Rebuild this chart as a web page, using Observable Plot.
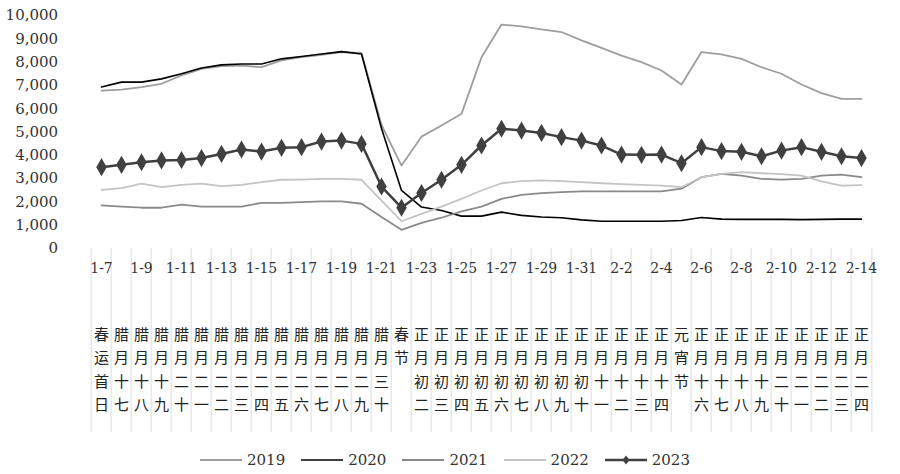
<!DOCTYPE html>
<html><head><meta charset="utf-8">
<script src="https://cdn.jsdelivr.net/npm/d3@7"></script>
<script src="https://cdn.jsdelivr.net/npm/@observablehq/plot@0.6"></script>
<style>
body{margin:0;background:#fff;}
#legend{display:flex;justify-content:center;align-items:center;gap:16px;height:29px;font-family:"DejaVu Serif";font-size:15px;color:#333;padding-right:10px;}
#legend .item{display:flex;align-items:center;gap:5px;}
</style></head><body>
<div id="chart"></div><div id="legend"></div>
<script>
const dates = ["1-7","1-8","1-9","1-10","1-11","1-12","1-13","1-14","1-15","1-16","1-17","1-18","1-19","1-20","1-21","1-22","1-23","1-24","1-25","1-26","1-27","1-28","1-29","1-30","1-31","2-1","2-2","2-3","2-4","2-5","2-6","2-7","2-8","2-9","2-10","2-11","2-12","2-13","2-14"];
const xTickLabels = ["1-7","1-9","1-11","1-13","1-15","1-17","1-19","1-21","1-23","1-25","1-27","1-29","1-31","2-2","2-4","2-6","2-8","2-10","2-12","2-14"];
const lunar = ["春运首日","腊月十七","腊月十八","腊月十九","腊月二十","腊月二一","腊月二二","腊月二三","腊月二四","腊月二五","腊月二六","腊月二七","腊月二八","腊月二九","腊月三十","春节","正月初二","正月初三","正月初四","正月初五","正月初六","正月初七","正月初八","正月初九","正月初十","正月十一","正月十二","正月十三","正月十四","元宵节","正月十六","正月十七","正月十八","正月十九","正月二十","正月二一","正月二二","正月二三","正月二四"];
const yTicks = [0,1000,2000,3000,4000,5000,6000,7000,8000,9000,10000];
const years = ["2019","2020","2021","2022","2023"];
const v2019 = [6780,6820,6930,7070,7430,7710,7830,7850,7780,8070,8210,8310,8430,8400,5300,3560,4800,5280,5780,8210,9610,9530,9400,9290,8930,8610,8280,8000,7640,7040,8430,8330,8140,7780,7500,7040,6670,6420,6420];
const v2020 = [6930,7140,7140,7280,7500,7750,7880,7920,7920,8140,8240,8350,8450,8350,5150,2490,1780,1630,1390,1390,1560,1420,1350,1320,1230,1170,1170,1170,1170,1200,1330,1260,1250,1250,1250,1240,1250,1260,1260];
const v2021 = [1850,1800,1750,1750,1880,1800,1800,1800,1960,1960,1990,2020,2020,1920,1350,800,1100,1320,1590,1800,2130,2300,2380,2420,2450,2450,2450,2450,2450,2570,3060,3200,3130,2990,2960,2990,3130,3170,3060];
const v2022 = [2520,2590,2780,2630,2730,2780,2680,2730,2850,2950,2960,2990,2990,2950,2060,1170,1490,1800,2130,2490,2800,2890,2920,2890,2850,2800,2760,2730,2700,2630,3060,3200,3280,3230,3190,3130,2880,2700,2720];
const v2023 = [3490,3590,3700,3780,3800,3880,4060,4250,4160,4320,4350,4590,4630,4490,2660,1750,2380,2950,3590,4420,5140,5060,4960,4780,4630,4420,4030,4020,4030,3660,4350,4180,4150,3960,4200,4350,4150,3960,3880];

const series = {"2019": v2019, "2020": v2020, "2021": v2021, "2022": v2022, "2023": v2023};
const colors = {"2019": "#9e9e9e", "2020": "#000000", "2021": "#8a8a8a", "2022": "#c4c4c4", "2023": "#404040"};
const widths = {"2019": 1.8, "2020": 1.6, "2021": 1.8, "2022": 1.8, "2023": 2.5};
const rows = years.flatMap(yr => dates.map((d, i) => ({date: d, year: yr, value: series[yr][i]})));

const W = 900, H = 445;
const mL = 76.6, mR = 14.6, mT = 15, mB = 197;
const bw = (W - mL - mR) / dates.length;

const marks = [
  Plot.ruleX(dates, {x: d => d, y1: 0, y2: -7900, dx: -bw / 2, stroke: "#dcdcdc", strokeWidth: 1}),
  Plot.ruleX(dates.slice(-1), {x: d => d, y1: 0, y2: -7900, dx: bw / 2, stroke: "#dcdcdc", strokeWidth: 1}),
  Plot.axisY({ticks: yTicks, tickFormat: d3.format(","), tickSize: 0, tickPadding: 19, fontSize: 15, fill: "#333", label: null}),
  Plot.text(xTickLabels, {x: d => d, text: d => d, frameAnchor: "bottom", dy: 24, fontSize: 14, fill: "#333"}),
  Plot.text(dates, {x: d => d, text: (d, i) => lunar[i].split("").join("\n"), frameAnchor: "bottom", lineAnchor: "top", dy: 75, lineHeight: 1.55, fontSize: 15, fontFamily: "Noto Sans CJK SC", fill: "#222"})
];
for (const yr of years) {
  marks.push(Plot.lineY(rows.filter(r => r.year === yr), {x: "date", y: "value", stroke: colors[yr], strokeWidth: widths[yr]}));
}
marks.push(Plot.dot(rows.filter(r => r.year === "2023"), {x: "date", y: "value", symbol: "diamond", r: 5.5, fill: colors["2023"], stroke: "none"}));

const chart = Plot.plot({
  width: W, height: H,
  marginLeft: mL, marginRight: mR, marginTop: mT, marginBottom: mB,
  style: {fontFamily: "DejaVu Serif", fontSize: "15px", background: "#fff"},
  x: {type: "band", domain: dates, padding: 0, axis: null},
  y: {domain: [0, 10000], axis: null},
  marks
});
document.getElementById("chart").appendChild(chart);

const legend = document.getElementById("legend");
for (const yr of years) {
  const item = document.createElement("div");
  item.className = "item";
  const diamond = yr === "2023" ? `<path d="M21,-4.5L24.5,0L21,4.5L17.5,0Z" fill="${colors[yr]}" transform="translate(0,5)"/>` : "";
  item.innerHTML = `<svg width="42" height="10"><line x1="0" x2="42" y1="5" y2="5" stroke="${colors[yr]}" stroke-width="${widths[yr]}"/>${diamond}</svg><span>${yr}</span>`;
  legend.appendChild(item);
}
</script>
</body></html>
